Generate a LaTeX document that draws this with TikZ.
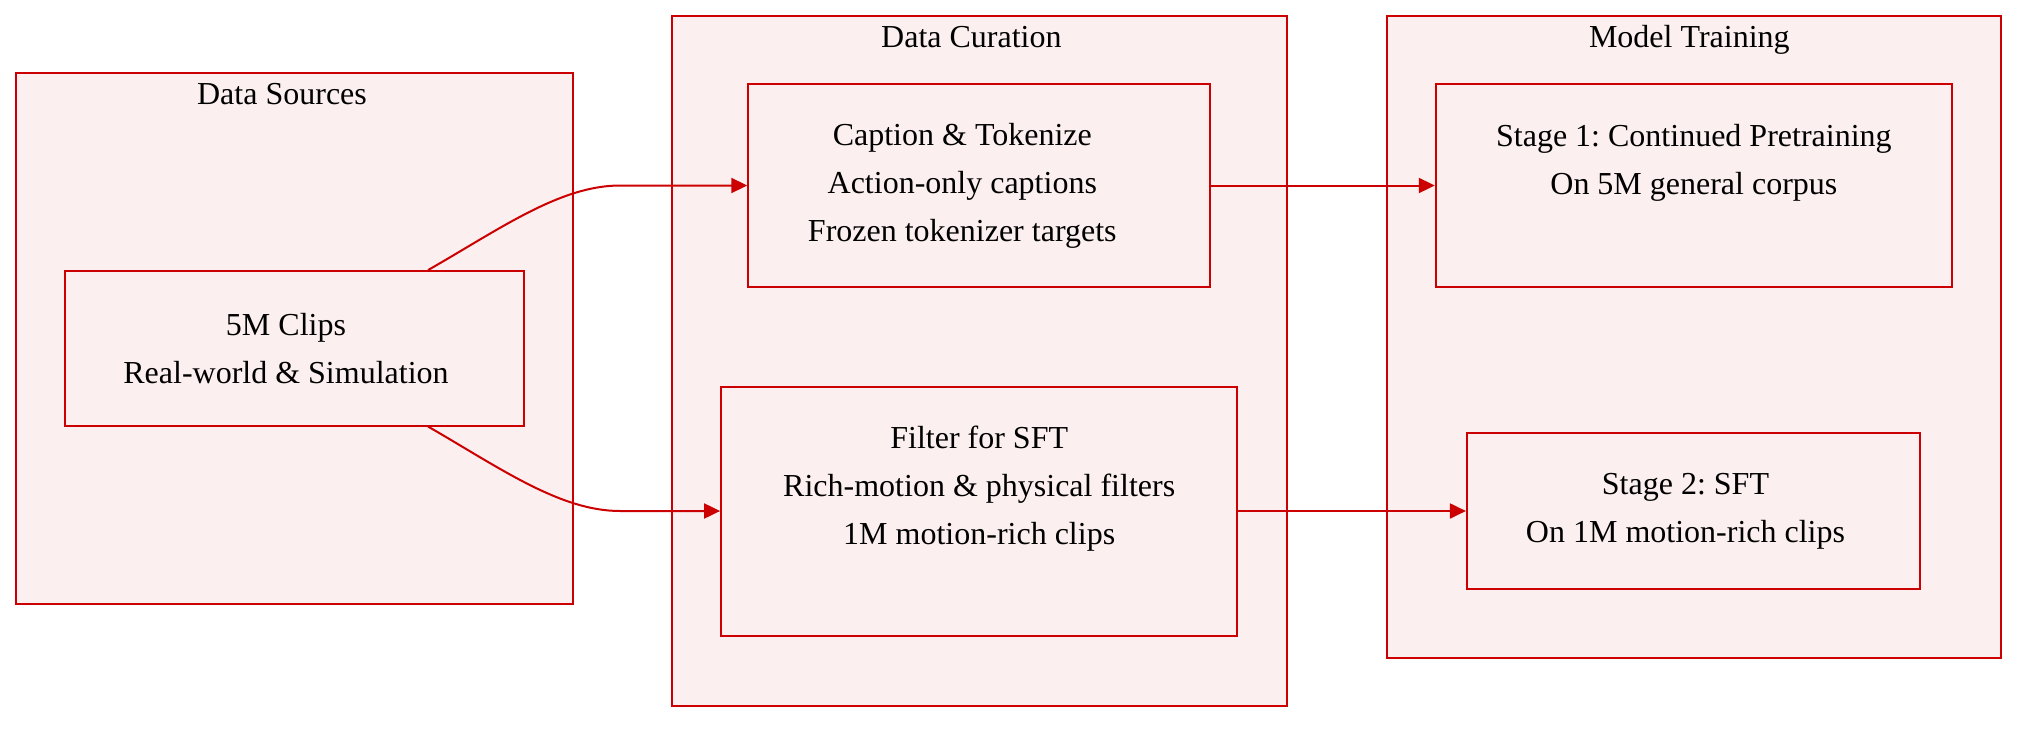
\documentclass[tikz,border=0pt]{standalone}
\usepackage{fontspec}
\setmainfont{Liberation Serif}
\frenchspacing
\usetikzlibrary{arrows.meta}
\definecolor{edgered}{RGB}{204,0,0}
\definecolor{boxpink}{RGB}{252,239,239}
\tikzset{>={Triangle[length=8pt,width=7.5pt]}}
\tikzset{
	cluster/.style = {draw = edgered, fill = boxpink, line width = 1pt, inner sep = 0pt},
	stepbox/.style = {draw = edgered, fill = boxpink, line width = 1pt, inner sep = 0pt, text width = 215pt, align = flush center, font = \fontsize{16}{24}\selectfont},
	nudge/.style = {execute at begin node = {\advance\rightskip by #1}},
	ttl/.style = {anchor = base, inner sep = 0pt, font = \fontsize{16}{24}\selectfont},
	flow/.style = {draw = edgered, ->, line width = 1pt}
}
\begin{document}
\begin{tikzpicture}[x = 0.5pt, y = -0.5pt]
	\useasboundingbox (0, 0) rectangle (2034, 728);
	% groups
	\node[cluster, minimum width = 278.9pt, minimum height = 265.9pt] (srcs) at (294.4, 338.5) {};
	\node[cluster, minimum width = 307.4pt, minimum height = 345pt] (cur) at (979.2, 360.6) {};
	\node[cluster, minimum width = 307.4pt, minimum height = 321pt] (train) at (1693.9, 336.6) {};
	\node[ttl] (srcsttl) at ([xshift = -6.2pt, yshift = -16.6pt]srcs.north) {Data Sources};
	\node[ttl] (curttl) at ([xshift = -3.9pt, yshift = -16.6pt]cur.north) {Data Curation};
	\node[ttl] (trainttl) at ([xshift = -2.3pt, yshift = -16.6pt]train.north) {Model Training};
	% steps
	\node[stepbox, nudge = 8.4pt, minimum width = 229.6pt, minimum height = 77.2pt] (clips) at (294.4, 348.3) {5M Clips\\Real-world \& Simulation};
	\node[stepbox, nudge = 16.9pt, minimum width = 230.9pt, minimum height = 101.2pt] (caption) at (979.2, 185.5) {Caption \& Tokenize\\Action-only captions\\Frozen tokenizer targets};
	\node[stepbox, minimum width = 258.1pt, minimum height = 124.5pt] (filter) at (979.2, 511) {Filter for SFT\\Rich-motion \& physical filters\\1M motion-rich clips\\[-5.2pt]\strut};
	\node[stepbox, minimum width = 258.1pt, minimum height = 101.2pt] (stageone) at (1693.9, 185.5) {Stage 1: Continued Pretraining\\On 5M general corpus\\[-5.2pt]\strut};
	\node[stepbox, nudge = 7.8pt, minimum width = 226.4pt, minimum height = 77.8pt] (stagetwo) at (1693.3, 511) {Stage 2: SFT\\On 1M motion-rich clips};
	% bends
	\coordinate (upbend) at (620, 185.5);
	\coordinate (lowbend) at (620, 511);
	% arrows
	\draw[flow] ([xshift = 66.8pt]clips.north) .. controls (500, 229) and (560, 185.5) .. (upbend) -- (caption.west);
	\draw[flow] ([xshift = 66.8pt]clips.south) .. controls (500, 468) and (560, 511) .. (lowbend) -- (filter.west);
	\draw[flow] (caption.east) -- (stageone.west);
	\draw[flow] (filter.east) -- (stagetwo.west);
\end{tikzpicture}
\end{document}
